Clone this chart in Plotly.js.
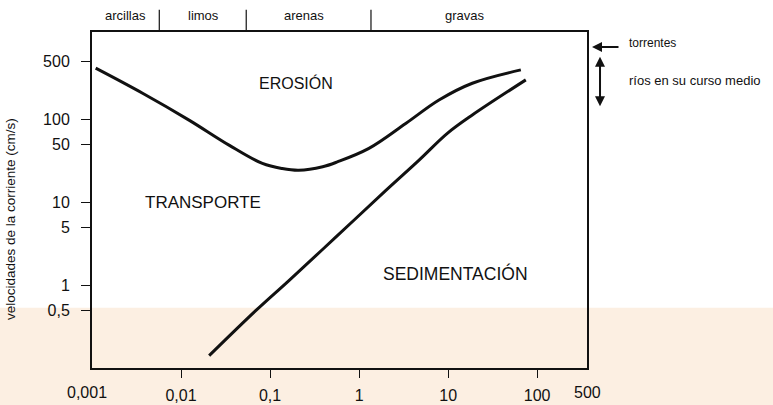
<!DOCTYPE html>
<html>
<head>
<meta charset="utf-8">
<script src="https://cdn.plot.ly/plotly-3.0.1.min.js"></script>
<style>html,body{margin:0;padding:0;background:#fff;}#chart{width:773px;height:405px;}</style>
</head>
<body>
<div id="chart"></div>
<script>
// Grain size (mm) and current velocity (cm/s)
const erosionSize = [0.0011, 0.0037, 0.0123, 0.0346, 0.082, 0.137, 0.21, 0.39, 0.57, 1.29, 3.34, 7.9, 18.7, 65.6];
const erosionVel  = [420, 209, 99, 49.3, 29.6, 25.7, 24.5, 27, 30.9, 45, 90, 173, 276, 400];
const sedimSize = [0.0207, 0.069, 0.163, 0.547, 2.0, 4.72, 9.8, 18.7, 74.6];
const sedimVel  = [0.141, 0.493, 1.14, 3.81, 14.0, 32.5, 68.4, 114, 303];

const xTickVals = [0.01, 0.1, 1, 10, 100];
const xTickText = ['0,01', '0,1', '1', '10', '100'];
const xCornerLabels = ['0,001', '500'];
const yTickVals = [0.5, 1, 5, 10, 50, 100, 500];
const yTickText = ['0,5', '1', '5', '10', '50', '100', '500'];

const classNames = ['arcillas', 'limos', 'arenas', 'gravas'];
const classCenters = [0.0024, 0.018, 0.24, 15.5];
const classBounds = [0.0057, 0.054, 1.36];

const regionNames = ['EROSIÓN', 'TRANSPORTE', 'SEDIMENTACIÓN'];
const regionSize = [0.195, 0.0175, 12];
const regionVel = [276, 10, 1.38];
const regionFont = [16, 17, 17.5];

const yTitle = 'velocidades de la corriente (cm/s)';
const riverLabels = ['torrentes', 'ríos en su curso medio'];

const FONT = 'Liberation Sans, Arial, Helvetica, sans-serif';
const INK = '#111';

const traces = [
  {x: erosionSize, y: erosionVel, mode: 'lines', line: {color: INK, width: 3, shape: 'spline', smoothing: 1}, hoverinfo: 'skip'},
  {x: sedimSize, y: sedimVel, mode: 'lines', line: {color: INK, width: 3, shape: 'spline', smoothing: 1}, hoverinfo: 'skip'}
];

const shapes = [
  {type: 'rect', xref: 'paper', yref: 'paper', x0: -0.3, x1: 1.5, y0: -0.2, y1: 0.179, fillcolor: '#fcefe2', line: {width: 0}, layer: 'below'}
];
classBounds.forEach(b => shapes.push({type: 'line', xref: 'x', yref: 'paper', x0: b, x1: b, y0: 1.006, y1: 1.066, line: {color: INK, width: 1.2}}));

const annotations = [];
classNames.forEach((n, i) => annotations.push({text: n, xref: 'x', yref: 'paper', x: Math.log10(classCenters[i]), y: 1.05, xanchor: 'center', yanchor: 'middle', showarrow: false, font: {family: FONT, size: 13, color: INK}}));
regionNames.forEach((n, i) => annotations.push({text: n, xref: 'x', yref: 'y', x: Math.log10(regionSize[i]), y: Math.log10(regionVel[i]), xanchor: 'center', yanchor: 'middle', showarrow: false, font: {family: FONT, size: regionFont[i], color: INK}}));
annotations.push({text: xCornerLabels[0], xref: 'paper', yref: 'paper', x: -0.01, y: -0.074, xanchor: 'center', yanchor: 'middle', showarrow: false, font: {family: FONT, size: 16, color: INK}});
annotations.push({text: xCornerLabels[1], xref: 'paper', yref: 'paper', x: 1.002, y: -0.074, xanchor: 'center', yanchor: 'middle', showarrow: false, font: {family: FONT, size: 16, color: INK}});
annotations.push({text: yTitle, xref: 'paper', yref: 'paper', x: -0.166, y: 0.443, textangle: -90, xanchor: 'center', yanchor: 'middle', showarrow: false, font: {family: FONT, size: 13.5, color: INK}});
annotations.push({text: riverLabels[0], xref: 'paper', yref: 'paper', x: 1.081, y: 0.967, xanchor: 'left', yanchor: 'middle', showarrow: false, font: {family: FONT, size: 12, color: INK}});
annotations.push({text: riverLabels[1], xref: 'paper', yref: 'paper', x: 1.081, y: 0.857, xanchor: 'left', yanchor: 'middle', showarrow: false, font: {family: FONT, size: 13, color: INK}});
// arrows
annotations.push({text: '', xref: 'paper', yref: 'paper', x: 1.0101, y: 0.955, ax: 28, ay: 0, showarrow: true, arrowhead: 2, arrowsize: 1, arrowwidth: 2, arrowcolor: INK, standoff: 0});
annotations.push({text: '', xref: 'paper', yref: 'paper', x: 1.0263, y: 0.926, ax: 0, ay: 51, showarrow: true, arrowhead: 2, arrowside: 'end+start', arrowsize: 1, arrowwidth: 2, arrowcolor: INK, standoff: 0, startstandoff: 0});

const layout = {
  width: 773, height: 405,
  margin: {l: 92, r: 186, t: 32, b: 37},
  paper_bgcolor: '#ffffff',
  plot_bgcolor: 'rgba(0,0,0,0)',
  showlegend: false,
  font: {family: FONT, color: INK},
  xaxis: {
    type: 'log', range: [-3, 2.56], showgrid: false, zeroline: false,
    showline: true, mirror: true, linecolor: INK, linewidth: 2,
    ticks: 'outside', ticklen: 8, tickwidth: 1, tickcolor: INK,
    tickvals: xTickVals, ticktext: xTickText,
    tickfont: {family: FONT, size: 16, color: INK}, ticklabelstandoff: 4
  },
  yaxis: {
    type: 'log', range: [-1.0, 3.06], showgrid: false, zeroline: false,
    showline: true, mirror: true, linecolor: INK, linewidth: 2,
    ticks: 'outside', ticklen: 9, tickwidth: 1, tickcolor: INK,
    tickvals: yTickVals, ticktext: yTickText,
    tickfont: {family: FONT, size: 16, color: INK}, ticklabelstandoff: 8
  },
  shapes: shapes,
  annotations: annotations
};

Plotly.newPlot('chart', traces, layout, {displayModeBar: false, staticPlot: true});
</script>
</body>
</html>
